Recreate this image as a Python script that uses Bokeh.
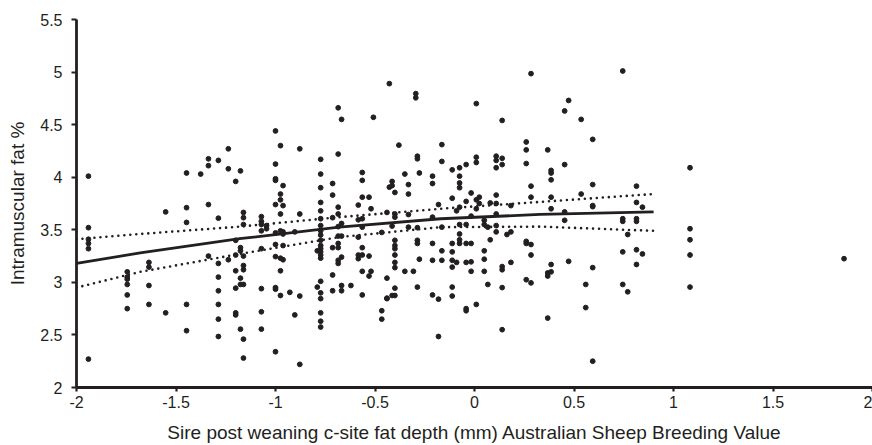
from bokeh.plotting import figure
from bokeh.models import Range1d, FixedTicker, ColumnDataSource
from bokeh.embed import file_html
from bokeh.resources import INLINE

# ---- data (sire ASBV, intramuscular fat %) ----
col_x = [-1.94, -1.745, -1.636, -1.552, -1.447, -1.376, -1.337, -1.287, -1.237, -1.20,
         -1.176, -1.161, -1.071, -1.045, -1.0, -0.975, -0.962, -0.928, -0.903, -0.878,
         -0.79, -0.773, -0.713, -0.685, -0.668, -0.621, -0.584, -0.564, -0.53, -0.52,
         -0.508, -0.466, -0.44, -0.428, -0.414, -0.40, -0.38, -0.35, -0.332, -0.307,
         -0.295, -0.287, -0.277, -0.211, -0.181, -0.164, -0.112, -0.09, -0.075, -0.042,
         -0.017, 0.009, 0.024, 0.049, 0.067, 0.079, 0.109, 0.139, 0.163, 0.183,
         0.26, 0.284, 0.368, 0.385, 0.453, 0.473, 0.536, 0.559, 0.594, 0.745,
         0.77, 0.814, 0.844, 1.083, 1.857]
col_y = [
    [4.01, 3.52, 3.41, 3.37, 3.32, 2.27],
    [3.10, 3.05, 3.03, 2.98, 2.88, 2.75],
    [3.19, 3.145, 2.97, 2.79],
    [3.67, 2.71],
    [4.04, 3.71, 3.57, 2.79, 2.54],
    [4.03],
    [4.175, 4.11, 3.74, 3.25],
    [4.16, 3.61, 3.18, 3.05, 2.92, 2.79, 2.65, 2.485],
    [4.27, 4.08, 3.215],
    [3.96, 3.40, 3.26, 3.11, 2.945, 2.71, 2.69],
    [4.06, 3.33, 3.30, 3.04, 2.98, 2.555],
    [3.665, 3.615, 3.55, 3.25, 3.16, 3.12, 2.98, 2.46, 2.28],
    [3.625, 3.58, 3.55, 3.49, 3.32, 2.94, 2.72, 2.555],
    [3.54, 3.51],
    [4.44, 4.125, 3.985, 3.97, 3.74, 3.47, 3.36, 3.245, 2.95, 2.935, 2.34],
    [4.30, 3.84, 3.785, 3.65, 3.49, 3.23, 3.11, 2.875],
    [3.92, 3.73, 3.48, 3.46, 3.35, 3.215],
    [2.905],
    [3.48, 2.69],
    [4.27, 3.65, 2.87, 2.22],
    [3.30, 2.955],
    [4.17, 4.03, 3.90, 3.76, 3.68, 3.605, 3.54, 3.49, 3.45, 3.40, 3.35, 3.32, 3.29,
     3.26, 3.23, 3.01, 2.90, 2.845, 2.71, 2.63, 2.575],
    [3.94, 3.83, 3.615, 3.33, 3.07, 2.92],
    [4.66, 4.22, 3.715, 3.65, 3.53, 3.44, 3.37, 3.33, 3.21, 3.18],
    [4.55, 3.56, 3.44, 3.24, 2.97, 2.92],
    [2.97],
    [3.735, 3.595, 3.43, 3.26, 3.225],
    [4.045, 3.97, 3.81, 3.605, 3.525, 3.33, 3.26, 3.105, 2.88],
    [3.81, 3.25, 3.06],
    [3.70, 3.105],
    [4.57],
    [3.475, 2.73, 2.65],
    [3.665, 3.04, 2.85, 2.845],
    [4.89, 3.905],
    [3.96, 3.92, 3.535, 2.875],
    [3.855, 3.65, 3.62, 3.40, 3.35, 3.32, 3.26, 3.19, 3.14, 2.945, 2.875],
    [4.305],
    [4.03, 3.105],
    [3.93, 3.84, 3.645, 3.525],
    [3.105],
    [4.795, 4.755],
    [4.20, 4.175, 3.52, 3.40, 3.37, 2.955],
    [4.04, 3.22],
    [4.01, 3.94, 3.62, 3.37, 3.21, 2.88],
    [3.74, 2.84, 2.485],
    [4.31, 4.15, 3.525, 3.30, 3.21],
    [4.07, 3.80, 3.37, 3.29, 3.21, 3.145, 2.955, 2.87],
    [3.68, 3.19],
    [4.09, 4.01, 3.945, 3.90, 3.715, 3.55, 3.46, 3.405, 3.37],
    [4.12, 3.77, 3.55, 3.37, 3.19, 2.75, 2.73],
    [3.85, 3.63, 3.37, 3.195, 3.105],
    [4.70, 4.19, 4.14, 3.785, 3.70, 2.79],
    [3.81, 3.75],
    [3.59, 3.55, 3.30, 3.22, 3.105],
    [3.525, 2.98],
    [3.755, 3.405],
    [4.20, 4.16, 4.09, 3.83, 3.75, 3.65, 3.54, 3.48],
    [4.54, 4.18, 4.12, 3.15, 3.12, 2.95, 2.55],
    [3.455],
    [3.73, 3.48, 3.19],
    [4.335, 4.26, 4.13, 3.39, 3.37, 3.025],
    [4.985, 3.915, 3.81, 3.36, 3.26, 2.995],
    [4.26, 3.09, 3.06, 2.66],
    [4.065, 4.04, 3.975, 3.81, 3.70, 3.17, 3.10],
    [4.63, 4.12, 3.67, 3.59],
    [4.73, 3.20],
    [4.55, 3.84],
    [2.98, 2.76],
    [4.36, 3.93, 3.73, 3.72, 3.14, 2.25],
    [5.01, 3.605, 3.58, 3.29, 2.98],
    [3.455, 2.91],
    [3.915, 3.76, 3.605, 3.58, 3.31, 3.17],
    [3.715, 3.27],
    [4.09, 3.51, 3.405, 3.26, 2.955],
    [3.225],
]

# fitted curve and its confidence band, read at several x positions
fit_x = [-2.0, -1.68, -1.18, -0.68, -0.17, 0.33, 0.9]
fit_y = [3.18, 3.28, 3.415, 3.525, 3.605, 3.646, 3.67]
upper_y = [3.41, 3.46, 3.53, 3.62, 3.70, 3.765, 3.84]
lower_y = [2.95, 3.10, 3.27, 3.43, 3.525, 3.53, 3.49]

x_ticks = [-2, -1.5, -1, -0.5, 0, 0.5, 1, 1.5, 2]
x_tick_labels = ["-2", "-1.5", "-1", "-0.5", "0", "0.5", "1", "1.5", "2"]
y_ticks = [2, 2.5, 3, 3.5, 4, 4.5, 5, 5.5]
y_tick_labels = ["2", "2.5", "3", "3.5", "4", "4.5", "5", "5.5"]

x_title = "Sire post weaning c-site fat depth (mm) Australian Sheep Breeding Value"
y_title = "Intramuscular fat %"

# ---- build ----
xs, ys = [], []
for cx, cys in zip(col_x, col_y):
    for v in cys:
        xs.append(cx)
        ys.append(v)
src = ColumnDataSource(dict(x=xs, y=ys))

INK = "#231f20"
FONT = "Liberation Sans"

p = figure(width=872, height=445, output_backend="svg", toolbar_location=None,
           x_range=Range1d(-2, 2), y_range=Range1d(2, 5.5),
           min_border_left=76, min_border_right=0, min_border_top=19,
           min_border_bottom=58)
p.outline_line_color = None
p.grid.visible = False
p.background_fill_color = "white"
p.border_fill_color = "white"

p.scatter("x", "y", source=src, size=4.8, color=INK, line_color=INK)

p.line(fit_x, upper_y, line_color=INK, line_width=2.6, line_dash="0 6", line_cap="round")
p.line(fit_x, lower_y, line_color=INK, line_width=2.6, line_dash="0 6", line_cap="round")
p.line(fit_x, fit_y, line_color=INK, line_width=2.8)

for ax, ticks, labels in ((p.xaxis[0], x_ticks, x_tick_labels), (p.yaxis[0], y_ticks, y_tick_labels)):
    ax.ticker = FixedTicker(ticks=ticks)
    ax.major_label_overrides = {t: l for t, l in zip(ticks, labels)}
    ax.axis_line_color = INK
    ax.axis_line_width = 2.8
    ax.major_tick_line_color = INK
    ax.major_tick_line_width = 2.2
    ax.major_tick_in = 0
    ax.minor_tick_line_color = None
    ax.major_label_text_font = FONT
    ax.major_label_text_font_size = "16px"
    ax.major_label_text_color = INK
    ax.axis_label_text_font = FONT
    ax.axis_label_text_font_size = "19px"
    ax.axis_label_text_font_style = "normal"
    ax.axis_label_text_color = INK

p.xaxis.major_tick_out = 4
p.xaxis.major_label_standoff = 4
p.xaxis.axis_label_standoff = 11
p.yaxis.major_tick_out = 5
p.yaxis.major_label_standoff = 9
p.yaxis.axis_label_standoff = 9
p.xaxis.axis_label = x_title
p.yaxis.axis_label = y_title

open("out.html", "w").write(file_html(p, INLINE))
